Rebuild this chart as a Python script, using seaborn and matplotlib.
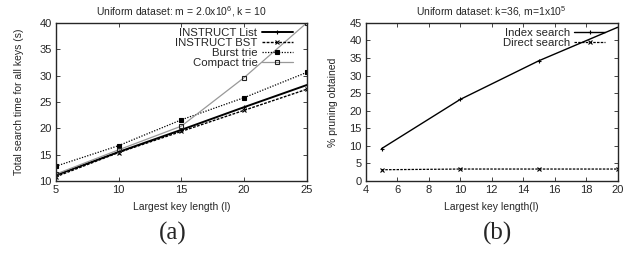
import numpy as np
import pandas as pd
import matplotlib

matplotlib.use("Agg")
import matplotlib.pyplot as plt
import seaborn as sns

# ---- data ----
key_len_a = [5, 10, 15, 20, 25]
instruct_list = [11.1, 15.5, 19.7, 24.0, 28.2]
instruct_bst = [10.8, 15.4, 19.4, 23.4, 27.4]
burst_trie = [12.8, 16.7, 21.6, 25.8, 30.6]
compact_trie = [11.3, 15.9, 20.4, 29.6, 40.0]

key_len_b = [5, 10, 15, 20]
index_search = [9.2, 23.2, 34.2, 43.7]
direct_search = [3.2, 3.4, 3.4, 3.4]

sns.set_style("ticks")
plt.rcParams["font.family"] = ["Liberation Sans", "DejaVu Sans"]
plt.rcParams["mathtext.fontset"] = "custom"
plt.rcParams["mathtext.rm"] = "Liberation Sans"
plt.rcParams["xtick.direction"] = "in"
plt.rcParams["ytick.direction"] = "in"
plt.rcParams["xtick.top"] = True
plt.rcParams["ytick.right"] = True

fig = plt.figure(figsize=(6.34, 2.56), dpi=100)
ax_a = fig.add_axes([0.088, 0.293, 0.396, 0.618])
ax_b = fig.add_axes([0.577, 0.293, 0.397, 0.618])

# (label, values, color, linestyle, marker, marker face, marker size, linewidth)
series_a = [
    ("INSTRUCT List", instruct_list, "black", "-", "+", "black", 3.5, 1.4),
    ("INSTRUCT BST", instruct_bst, "black", (0, (2, 1)), "x", "black", 2.8, 1.0),
    ("Burst trie", burst_trie, "black", (0, (1, 1.2)), "s", "black", 2.2, 0.9),
    ("Compact trie", compact_trie, "#999999", "-", "s", "none", 3.0, 0.9),
]
series_b = [
    ("Index search", index_search, "black", "-", "+", "black", 3.0, 1.0),
    ("Direct search", direct_search, "black", (0, (2, 1)), "x", "black", 2.8, 0.9),
]


def draw(ax, x, series):
    for label, vals, color, ls, marker, mfc, ms, lw in series:
        df = pd.DataFrame({"x": x, "y": vals})
        sns.lineplot(
            data=df, x="x", y="y", ax=ax, color=color, linestyle=ls,
            marker=marker, markersize=ms, markerfacecolor=mfc,
            markeredgecolor="black" if mfc == "black" else "#222222",
            markeredgewidth=0.8, linewidth=lw, label=label,
        )


def gnuplot_legend(ax, anchor):
    leg = ax.legend(
        loc="upper right", bbox_to_anchor=anchor, frameon=False,
        markerfirst=False, fontsize=8.2, handlelength=2.7,
        handletextpad=0.4, labelspacing=0.0, borderpad=0, borderaxespad=0,
    )
    # right-align the labels like gnuplot does
    for col in leg._legend_handle_box.get_children():
        col.align = "right"
    return leg


draw(ax_a, key_len_a, series_a)
draw(ax_b, key_len_b, series_b)
gnuplot_legend(ax_a, (0.944, 0.965))
gnuplot_legend(ax_b, (0.95, 0.965))

ax_a.set_xlim(5, 25)
ax_a.set_ylim(10, 40)
ax_a.set_xticks([5, 10, 15, 20, 25])
ax_a.set_yticks([10, 15, 20, 25, 30, 35, 40])
ax_a.set_title(r"Uniform dataset: m = 2.0x10$^6$, k = 10", fontsize=7.5, pad=5)
ax_a.set_xlabel("Largest key length (l)", fontsize=7.5, labelpad=5)
ax_a.set_ylabel("Total search time for all keys (s)", fontsize=7.5, labelpad=11)

ax_b.set_xlim(4, 20)
ax_b.set_ylim(0, 45)
ax_b.set_xticks(np.arange(4, 21, 2))
ax_b.set_yticks(np.arange(0, 46, 5))
ax_b.set_title(r"Uniform dataset: k=36, m=1x10$^5$", fontsize=7.5, pad=5)
ax_b.set_xlabel("Largest key length(l)", fontsize=7.5, labelpad=5)
ax_b.set_ylabel("% pruning obtained", fontsize=7.5, labelpad=8)

for ax in (ax_a, ax_b):
    ax.tick_params(labelsize=8, length=3, width=0.6, pad=3)
    for sp in ax.spines.values():
        sp.set_linewidth(1.0)
        sp.set_visible(True)

fig.text(0.273, 0.09, "(a)", ha="center", va="center",
         fontsize=18, family="Liberation Serif")
fig.text(0.784, 0.09, "(b)", ha="center", va="center",
         fontsize=18, family="Liberation Serif")

fig.savefig("out.png", dpi=100)
